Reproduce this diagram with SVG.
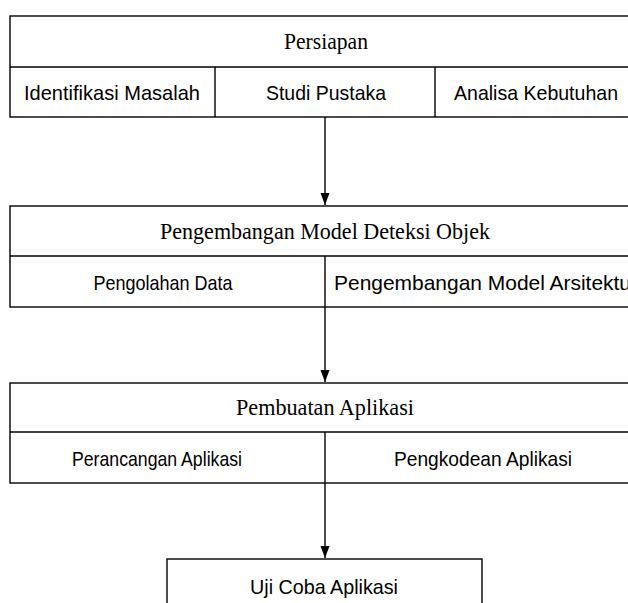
<svg xmlns="http://www.w3.org/2000/svg" width="628" height="603" viewBox="0 0 628 603">
<style>
.box{fill:#fff;stroke:#000;stroke-width:1.4}
.ln{stroke:#000;stroke-width:1.4;fill:none}
.hd{font-family:"Liberation Serif","Times New Roman",serif;font-size:24px;fill:#000;text-anchor:middle}
.cl{font-family:"Liberation Sans",Arial,sans-serif;font-size:21px;fill:#000;text-anchor:middle}
</style>
<defs>
<marker id="ah" markerWidth="12" markerHeight="16" refX="16" refY="6" orient="auto" markerUnits="userSpaceOnUse" viewBox="0 0 16 12">
<path d="M0,0 L16,6 L0,12 Z" fill="#000"/>
</marker>
</defs>
<rect width="628" height="603" fill="#fff"/>
<g id="persiapan">
<rect class="box" x="10" y="16" width="632" height="101"/>
<line class="ln" x1="10" y1="67" x2="642" y2="67"/>
<line class="ln" x1="215" y1="67" x2="215" y2="117"/>
<line class="ln" x1="435" y1="67" x2="435" y2="117"/>
<text class="hd" x="326" y="49" textLength="84" lengthAdjust="spacingAndGlyphs">Persiapan</text>
<text class="cl" x="112" y="100" textLength="176" lengthAdjust="spacingAndGlyphs">Identifikasi Masalah</text>
<text class="cl" x="326" y="100" textLength="120" lengthAdjust="spacingAndGlyphs">Studi Pustaka</text>
<text class="cl" x="536" y="100" textLength="164" lengthAdjust="spacingAndGlyphs">Analisa Kebutuhan</text>
</g>
<g id="pengembangan">
<rect class="box" x="10" y="206" width="632" height="101"/>
<line class="ln" x1="10" y1="256" x2="642" y2="256"/>
<line class="ln" x1="325" y1="256" x2="325" y2="307"/>
<text class="hd" x="325" y="239" textLength="330" lengthAdjust="spacingAndGlyphs">Pengembangan Model Deteksi Objek</text>
<text class="cl" x="163" y="290" textLength="139" lengthAdjust="spacingAndGlyphs">Pengolahan Data</text>
<text class="cl" x="334" y="290" style="text-anchor:start" textLength="304" lengthAdjust="spacingAndGlyphs">Pengembangan Model Arsitektur</text>
</g>
<g id="pembuatan">
<rect class="box" x="10" y="383" width="632" height="100"/>
<line class="ln" x1="10" y1="432" x2="642" y2="432"/>
<line class="ln" x1="325" y1="432" x2="325" y2="483"/>
<text class="hd" x="325" y="415" textLength="178" lengthAdjust="spacingAndGlyphs">Pembuatan Aplikasi</text>
<text class="cl" x="157" y="466" textLength="170" lengthAdjust="spacingAndGlyphs">Perancangan Aplikasi</text>
<text class="cl" x="483" y="466" textLength="178" lengthAdjust="spacingAndGlyphs">Pengkodean Aplikasi</text>
</g>
<g id="ujicoba">
<rect class="box" x="167" y="559" width="315" height="60"/>
<text class="cl" x="324" y="594" textLength="148" lengthAdjust="spacingAndGlyphs">Uji Coba Aplikasi</text>
</g>
<g id="connectors">
<line class="ln" x1="325" y1="117" x2="325" y2="205" marker-end="url(#ah)"/>
<line class="ln" x1="325" y1="307" x2="325" y2="382" marker-end="url(#ah)"/>
<line class="ln" x1="325" y1="483" x2="325" y2="558" marker-end="url(#ah)"/>
</g>
</svg>
